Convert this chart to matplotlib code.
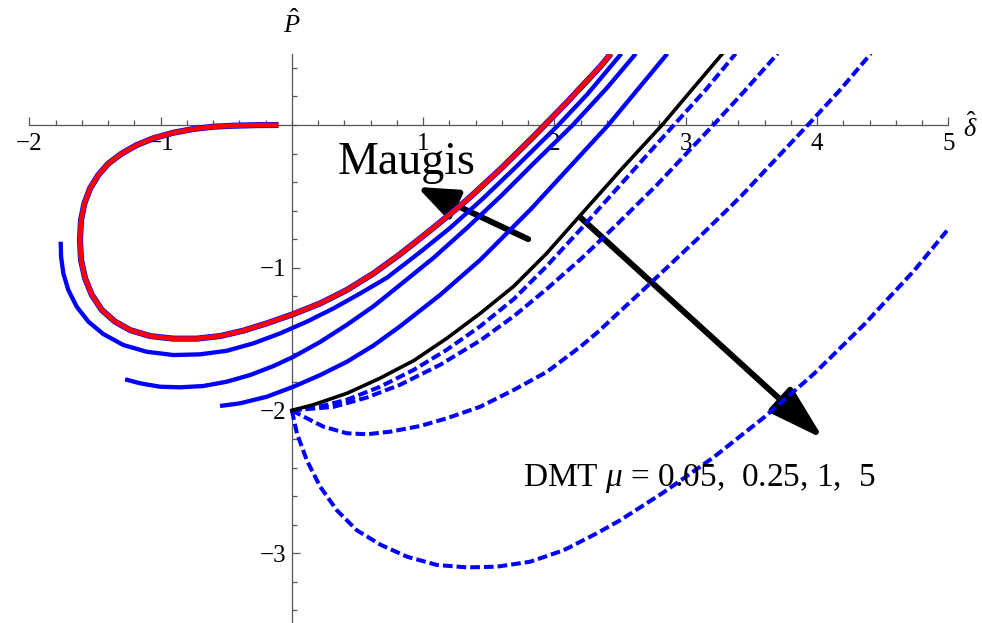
import matplotlib
matplotlib.use('Agg')
import matplotlib.pyplot as plt
import numpy as np
from matplotlib.ticker import FixedLocator

plt.rcParams['font.family'] = ['Liberation Serif', 'DejaVu Serif']
plt.rcParams['mathtext.fontset'] = 'custom'
plt.rcParams['mathtext.rm'] = 'Liberation Serif'
plt.rcParams['mathtext.it'] = 'Liberation Serif:italic'
plt.rcParams['axes.unicode_minus'] = True
plt.rcParams['xtick.labelsize'] = 18
plt.rcParams['ytick.labelsize'] = 18

# ---------------- data ----------------
# Maugis curve (red, drawn over a blue copy)
maugis_d = [-0.102, -0.267, -0.445, -0.598, -0.75, -0.902, -1.055, -1.181, -1.296, -1.398,
            -1.474, -1.537, -1.58, -1.606, -1.614, -1.606, -1.575, -1.524, -1.448, -1.347,
            -1.232, -1.08, -0.902, -0.724, -0.547, -0.369, -0.191, 0.012, 0.216, 0.419,
            0.622, 0.825, 1.079, 1.334, 1.588, 1.842, 2.096, 2.35, 2.43]
maugis_p = [0.0, -0.001, -0.005, -0.012, -0.028, -0.054, -0.093, -0.14, -0.20, -0.27,
            -0.35, -0.444, -0.549, -0.666, -0.806, -0.946, -1.074, -1.19, -1.296, -1.378,
            -1.437, -1.479, -1.497, -1.497, -1.479, -1.441, -1.39, -1.325, -1.25, -1.156,
            -1.04, -0.905, -0.72, -0.525, -0.31, -0.08, 0.16, 0.41, 0.50]

# other solid blue curves
blue2_d = [-1.761, -1.758, -1.741, -1.703, -1.639, -1.55, -1.436, -1.283, -1.105, -0.902,
           -0.699, -0.495, -0.293, -0.089, 0.114, 0.317, 0.521, 0.724, 0.978, 1.2,
           1.45, 1.7, 2.03, 2.25, 2.51]
blue2_p = [-0.818, -0.923, -1.039, -1.156, -1.273, -1.378, -1.465, -1.542, -1.589, -1.612,
           -1.607, -1.582, -1.53, -1.46, -1.378, -1.285, -1.18, -1.07, -0.89, -0.725,
           -0.52, -0.30, 0.0, 0.215, 0.50]

blue3_d = [-1.27, -1.156, -1.004, -0.851, -0.674, -0.497, -0.318, -0.14, 0.012, 0.216,
           0.419, 0.622, 0.825, 1.08, 1.335, 1.59, 1.84, 2.14, 2.40, 2.62]
blue3_p = [-1.782, -1.81, -1.834, -1.838, -1.829, -1.799, -1.752, -1.689, -1.624, -1.52,
           -1.40, -1.27, -1.12, -0.93, -0.72, -0.50, -0.27, 0.0, 0.26, 0.50]

blue4_d = [-0.547, -0.394, -0.191, 0.012, 0.216, 0.419, 0.622, 0.825, 1.13, 1.435,
           1.82, 2.20, 2.41, 2.86]
blue4_p = [-1.969, -1.95, -1.904, -1.834, -1.752, -1.659, -1.545, -1.41, -1.19, -0.945,
           -0.59, -0.21, 0.0, 0.50]

# black curve
black_d = [0.0, 0.165, 0.42, 0.67, 0.93, 1.18, 1.435, 1.69, 1.94, 2.20, 2.51, 2.82, 3.04, 3.28]
black_p = [-2.0, -1.96, -1.88, -1.775, -1.65, -1.495, -1.32, -1.13, -0.90, -0.63, -0.31, 0.0, 0.24, 0.50]

# DMT curves (dashed), mu = 0.05, 0.25, 1, 5
dmt005_d = [0.0, 0.2, 0.42, 0.67, 0.93, 1.18, 1.435, 1.69, 1.94, 2.20, 2.55, 2.91, 3.16, 3.38]
dmt005_p = [-2.0, -1.975, -1.925, -1.835, -1.715, -1.575, -1.41, -1.22, -0.99, -0.73, -0.37, 0.0, 0.255, 0.50]

dmt025_d = [0.0, 0.317, 0.57, 0.825, 1.13, 1.435, 1.69, 1.94, 2.20, 2.45, 2.78, 3.21, 3.44, 3.70]
dmt025_p = [-2.0, -1.975, -1.91, -1.82, -1.68, -1.51, -1.34, -1.15, -0.94, -0.72, -0.42, 0.0, 0.23, 0.50]

dmt1_d = [0.0, 0.114, 0.241, 0.419, 0.572, 0.749, 0.978, 1.181, 1.435, 1.689, 1.944,
          2.197, 2.325, 2.706, 3.087, 3.42, 3.93, 4.18, 4.41]
dmt1_p = [-2.0, -2.055, -2.114, -2.16, -2.167, -2.149, -2.109, -2.055, -1.974, -1.857, -1.729,
          -1.554, -1.455, -1.13, -0.80, -0.50, 0.0, 0.25, 0.50]

dmt5_d = [0.0, 0.038, 0.114, 0.216, 0.343, 0.495, 0.673, 0.877, 1.105, 1.334, 1.562,
          1.816, 2.07, 2.325, 2.50, 2.83, 3.21, 3.595, 3.975, 4.357, 4.74, 4.99]
dmt5_p = [-2.0, -2.16, -2.35, -2.535, -2.70, -2.84, -2.94, -3.025, -3.083, -3.10, -3.095,
          -3.06, -2.98, -2.86, -2.77, -2.575, -2.33, -2.05, -1.745, -1.40, -1.02, -0.74]

# tick labels
xtick_vals = [-2, -1, 1, 2, 3, 4, 5]
xtick_labels = ['\u22122', '\u22121', '1', '2', '3', '4', '5']
ytick_vals = [-3, -2, -1]
ytick_labels = ['\u22123', '\u22122', '\u22121']

# annotations
maugis_arrow_tail = (1.80, -0.80)
maugis_arrow_tip = (0.955, -0.434)
dmt_arrow_tail = (2.20, -0.65)
dmt_arrow_tip = (4.05, -2.20)
maugis_text = 'Maugis'
dmt_text = 'DMT $\\mu$ = 0.05,  0.25, 1,  5'

# ---------------- figure ----------------
fig = plt.figure(figsize=(9.82, 6.23), dpi=100)
ax = fig.add_axes([0.02984, 0.0022, 0.93585, 0.9117])
ax.set_xlim(-2, 5)
ax.set_ylim(-3.48, 0.5)

axcol = '#555555'
for s in ['top', 'right']:
    ax.spines[s].set_visible(False)
ax.spines['left'].set_position(('data', 0))
ax.spines['bottom'].set_position(('data', 0))
for s in ['left', 'bottom']:
    ax.spines[s].set_color(axcol)
    ax.spines[s].set_linewidth(0.9)

ax.set_xticks(xtick_vals)
ax.set_xticklabels(xtick_labels)
ax.xaxis.set_minor_locator(FixedLocator(np.round(np.arange(-2, 5.001, 0.2), 2)))
ax.set_yticks(ytick_vals)
ax.set_yticklabels(ytick_labels)
ax.yaxis.set_minor_locator(FixedLocator(np.round(np.arange(-3.4, 0.401, 0.2), 2)))

ax.tick_params(axis='x', which='major', direction='in', length=6, width=0.9, color=axcol,
               pad=6, labelsize=18)
ax.tick_params(axis='x', which='minor', direction='in', length=3.8, width=0.9, color=axcol)
ax.tick_params(axis='y', which='major', direction='in', length=6, width=0.9, color=axcol,
               pad=4, labelsize=18)
ax.tick_params(axis='y', which='minor', direction='in', length=3.8, width=0.9, color=axcol)

# arrows (under the curves)
ax.annotate('', xy=maugis_arrow_tip, xytext=maugis_arrow_tail,
            arrowprops=dict(arrowstyle='-|>,head_length=2.4,head_width=0.95',
                            mutation_scale=10, lw=4.3, color='black',
                            shrinkA=0, shrinkB=0), zorder=2)
ax.annotate('', xy=dmt_arrow_tip, xytext=dmt_arrow_tail,
            arrowprops=dict(arrowstyle='-|>,head_length=3.4,head_width=1.0',
                            mutation_scale=10, lw=4.3, color='black',
                            shrinkA=0, shrinkB=0), zorder=2)

blue = '#0000ff'
dash = (0, (2.4, 1.0))
for d, p in [(dmt005_d, dmt005_p), (dmt025_d, dmt025_p), (dmt1_d, dmt1_p), (dmt5_d, dmt5_p)]:
    ax.plot(d, p, color=blue, lw=2.9, linestyle=dash, dash_capstyle='butt',
            dash_joinstyle='round', zorder=3)

ax.plot(black_d, black_p, color='black', lw=2.6, zorder=4, solid_joinstyle='round')
for d, p in [(blue4_d, blue4_p), (blue3_d, blue3_p), (blue2_d, blue2_p)]:
    ax.plot(d, p, color=blue, lw=3.1, zorder=4, solid_capstyle='butt', solid_joinstyle='round')
ax.plot(maugis_d, maugis_p, color=blue, lw=4.4, zorder=5, solid_capstyle='butt', solid_joinstyle='round')
ax.plot(maugis_d, maugis_p, color='#ff0000', lw=3.4, zorder=6, solid_capstyle='butt', solid_joinstyle='round')

ax.text(0.345, -0.343, maugis_text, fontsize=33, ha='left', va='baseline', zorder=7)
ax.text(1.763, -2.528, dmt_text, fontsize=24, ha='left', va='baseline', zorder=7)

fig.text(292 / 982, 1 - 24 / 623, '$\\hat{P}$', fontsize=19, ha='center', va='center')
fig.text(970 / 982, 1 - 127 / 623, '$\\hat{\\delta}$', fontsize=19, ha='center', va='center')

fig.savefig('out.png', dpi=100)
